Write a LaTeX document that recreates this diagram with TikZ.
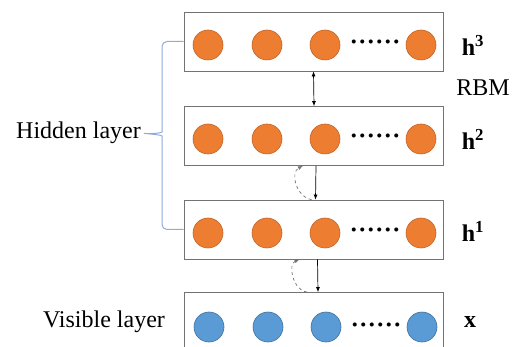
\documentclass[tikz,border=0pt]{standalone}
\usepackage{fontspec}
\setmainfont{Liberation Serif}
\usepackage{tikz}
\usetikzlibrary{arrows.meta,positioning,calc}
\definecolor{unitorange}{HTML}{ED7D31}
\definecolor{unitorangeline}{HTML}{C0662A}
\definecolor{unitblue}{HTML}{5B9BD5}
\definecolor{unitblueline}{HTML}{41719C}
\definecolor{bracecol}{HTML}{8FAADC}
\tikzset{
  layerbox/.style={draw=black!55, line width=0.8pt, minimum width=259pt, minimum height=59pt, inner sep=0pt},
  hunit/.style={circle, fill=unitorange, draw=unitorangeline, line width=0.6pt, minimum size=30pt, inner sep=0pt},
  vunit/.style={circle, fill=unitblue, draw=unitblueline, line width=0.6pt, minimum size=30pt, inner sep=0pt},
  dots/.style={font=\fontsize{34}{34}\selectfont, inner sep=0pt, anchor=base},
  lab/.style={font=\fontsize{24}{28}\selectfont, inner sep=0pt},
  arrow/.style={-{Latex[length=5pt,width=4pt]}, line width=0.7pt},
  dasharrow/.style={-{Latex[length=5pt,width=4pt]}, line width=0.7pt, dashed, draw=black!55},
  bracket/.style={draw=bracecol, line width=1pt, rounded corners=5pt},
}

\begin{document}
\begin{tikzpicture}[x=1pt, y=-1pt]
\useasboundingbox (0,0) rectangle (519,347);
% layer boxes
\node[layerbox] (b3) at (313.5,41.5) {};
\node[layerbox] (b2) at (314,136) {};
\node[layerbox] (b1) at (313.5,229.5) {};
\node[layerbox] (b0) at (314,322) {};
% hidden units
\foreach \l/\y in {3/45,2/139,1/233} {
  \foreach \i/\x in {1/208,2/267,3/325,4/421}
    \node[hunit] (h\l-\i) at (\x,\y) {};
  \node[dots] (d\l) at (375,\y-1) {......};
}
% visible units
\foreach \i/\x in {1/209,2/268,3/326,4/422}
  \node[vunit] (v-\i) at (\x,327) {};
\node[dots] (d0) at (376,326) {......};
% labels
\node[lab] (l3) at (473,45) {\textbf{h\textsuperscript{3}}};
\node[lab] (l2) at (473,139) {\textbf{h\textsuperscript{2}}};
\node[lab] (l1) at (473,231) {\textbf{h\textsuperscript{1}}};
\node[lab] (l0) at (470,322) {\textbf{x}};
\node[lab] (rbm) at (483,88) {RBM};
\node[lab, anchor=east] (hid) at (141,133) {Hidden layer};
\node[lab] (vis) at (104,322) {Visible layer};
% connections
\draw[arrow, {Latex[length=5pt,width=4pt]}-{Latex[length=5pt,width=4pt]}] (b3.south) -- (b2.north);
\draw[arrow] ([xshift=2pt]b2.south) -- ([xshift=2pt]b1.north);
\draw[arrow] ([xshift=4pt]b1.south) -- ([xshift=4pt]b0.north);
\draw[dasharrow] ([xshift=-2pt]b1.north) .. controls (296,197) and (290,172) .. ([xshift=-11pt]b2.south);
\draw[dasharrow] ([xshift=-7pt]b0.north) .. controls (292,290) and (288,264) .. ([xshift=-14pt]b1.south);
% brace
\draw[bracket] (b3.west) -- (162,41.5) -- (162,127) .. controls (162,133) and (150,134) .. (hid.east)
  .. controls (150,134) and (162,135) .. (162,141) -- (162,229.5) -- (b1.west);
\end{tikzpicture}
\end{document}
